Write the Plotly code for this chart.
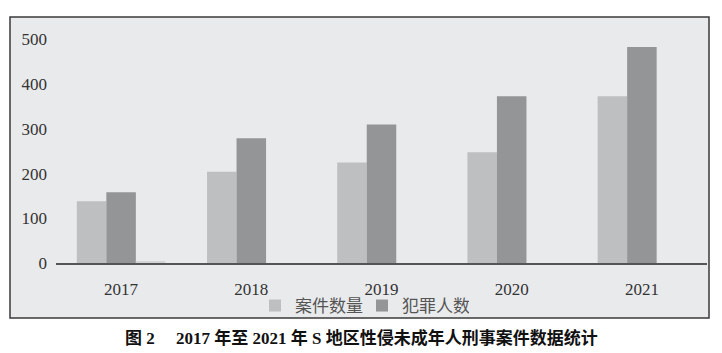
import plotly.graph_objects as go

years = ["2017", "2018", "2019", "2020", "2021"]
cases = [138, 204, 225, 248, 373]
offenders = [158, 279, 310, 373, 483]
extra = [4, None, None, None, None]
yticks = [0, 100, 200, 300, 400, 500]

W, H = 722, 353
ml, mr, mt, mb = 56, 15, 30, 90
pw, ph = W - ml - mr, H - mt - mb
ymax = ph / 0.447

def px_x(p):
    return (p - ml) / pw

def px_y(p):
    return (H - mb - p) / ph

fig = go.Figure()
fig.add_trace(go.Bar(x=years, y=cases, name="案件数量", marker=dict(color="#BEBFC1", line=dict(width=0))))
fig.add_trace(go.Bar(x=years, y=offenders, name="犯罪人数", marker=dict(color="#949597", line=dict(width=0))))
fig.add_trace(go.Bar(x=years, y=extra, name="", showlegend=False, marker=dict(color="#D3D4D6", line=dict(width=0))))

fig.add_shape(type="rect", xref="paper", yref="paper",
              x0=px_x(10), x1=px_x(709), y0=px_y(318), y1=px_y(17),
              fillcolor="#E9EAEC", line=dict(color="#3A3A3A", width=1.5), layer="below")

fig.add_annotation(text="<b>图 2　 2017 年至 2021 年 S 地区性侵未成年人刑事案件数据统计</b>",
                   xref="paper", yref="paper", x=px_x(361), y=px_y(338),
                   showarrow=False, xanchor="center", yanchor="middle",
                   font=dict(family="Liberation Serif, Noto Sans CJK SC", size=17, color="#111111"))

fig.update_layout(
    width=W, height=H,
    margin=dict(l=ml, r=mr, t=mt, b=mb),
    paper_bgcolor="white",
    plot_bgcolor="rgba(0,0,0,0)",
    barmode="group",
    bargap=0.32,
    bargroupgap=0,
    font=dict(family="Liberation Serif, Noto Sans CJK SC", size=16, color="#333333"),
    legend=dict(orientation="h", x=px_x(362), y=px_y(306), xanchor="center", yanchor="middle",
                bgcolor="rgba(0,0,0,0)", itemwidth=30, entrywidth=62, tracegroupgap=0,
                font=dict(family="Noto Sans CJK SC", size=17, color="#555555")),
    showlegend=True,
)
fig.update_xaxes(showline=True, linecolor="#555555", linewidth=2, showgrid=False,
                 ticks="", ticklabelstandoff=10,
                 tickfont=dict(family="Liberation Serif", size=17, color="#333333"))
fig.update_yaxes(range=[0, ymax], tickvals=yticks, showgrid=False, zeroline=False,
                 showline=False, ticks="", ticklabelstandoff=8,
                 tickfont=dict(family="Liberation Serif", size=17, color="#333333"))

fig.write_html("out.html")
